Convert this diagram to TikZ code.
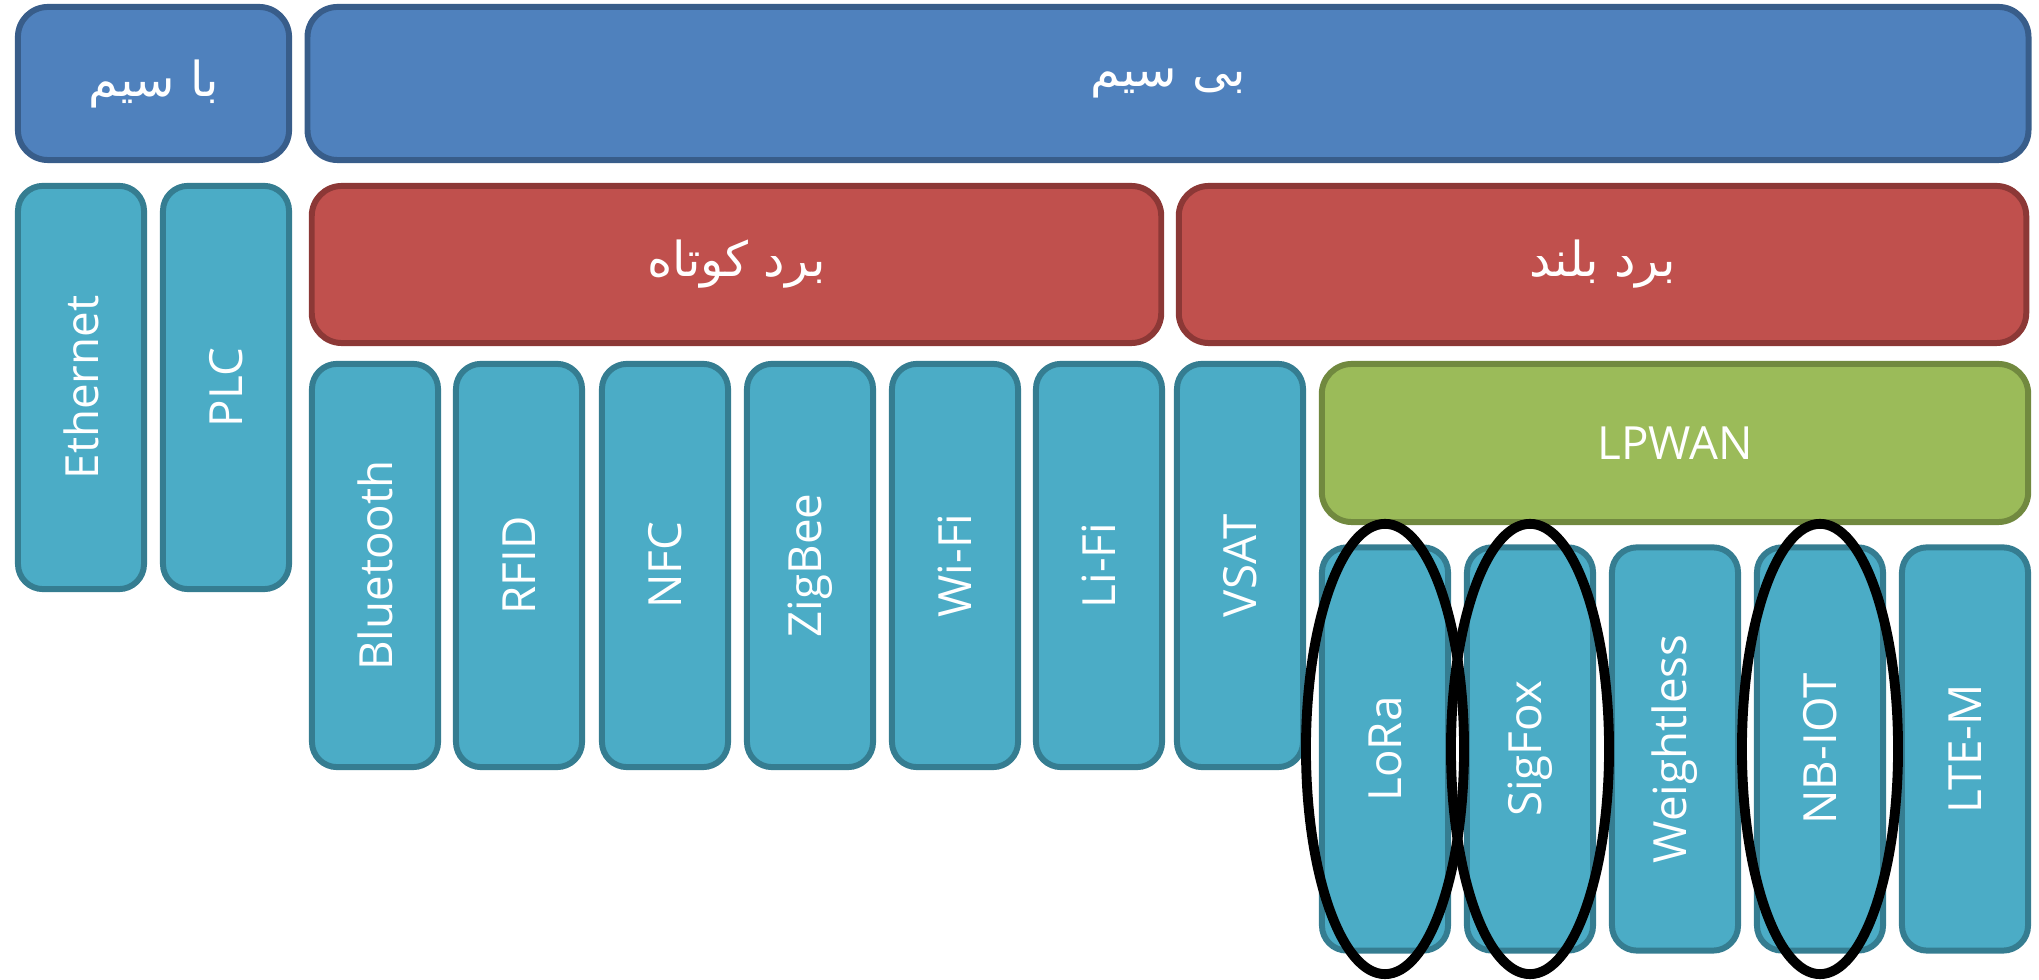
\documentclass[tikz,border=0pt]{standalone}
\usepackage{fontspec}
\usepackage{graphicx}
\setmainfont{Open Sans}
\newfontfamily\farsi[Script=Arabic]{DejaVu Sans}
\TeXXeTstate=1

\definecolor{bluefill}{HTML}{4F81BD}
\definecolor{blueline}{HTML}{385D8A}
\definecolor{redfill}{HTML}{C0504D}
\definecolor{redline}{HTML}{8C3836}
\definecolor{tealfill}{HTML}{4BACC6}
\definecolor{tealline}{HTML}{357D91}
\definecolor{greenfill}{HTML}{9BBB59}
\definecolor{greenline}{HTML}{71893F}

\newcommand{\vlabel}[1]{\rotatebox{90}{#1}}
\newcommand{\farsitext}[1]{{\fontsize{13.7}{16}\farsi\beginR #1\endR}}

\tikzset{
    tile/.style={rectangle, rounded corners=0.25cm, line width=1.7pt,
        text=white, inner sep=0pt, font=\fontsize{13}{16}\selectfont},
    band/.style={tile, rounded corners=0.3cm},
    wirebox/.style={band, fill=bluefill, draw=blueline, minimum height=1.53cm},
    rangebox/.style={band, fill=redfill, draw=redline, minimum height=1.57cm},
    lpwanbox/.style={band, fill=greenfill, draw=greenline, minimum height=1.58cm},
    tech/.style={tile, fill=tealfill, draw=tealline,
        minimum width=1.26cm, minimum height=4.03cm},
    pick/.style={line width=2.8pt, black},
}

\begin{document}
\begin{tikzpicture}[x=0.01cm, y=-0.01cm]
        \useasboundingbox (0,0) rectangle (2039,980);
        % wired / wireless
        \node [wirebox, minimum width=2.71cm]  (wired)    at (153.5,83.5) {\farsitext{با سیم}};
        \node [wirebox, minimum width=17.20cm] (wireless) at (1168,83.5)  {\farsitext{بی سیم}};
        % short and long range
        \node [rangebox, minimum width=8.49cm] (short) at (736.5,264.5)  {\farsitext{برد کوتاه}};
        \node [rangebox, minimum width=8.47cm] (long)  at (1602.5,264.5) {\farsitext{برد بلند}};
        % wired technologies
        \node [tech] (eth) at (81,387.5)  {\vlabel{Ethernet}};
        \node [tech] (plc) at (226,387.5) {\vlabel{PLC}};
        % short range technologies
        \node [tech] (bt)    at (375,565.5)  {\vlabel{Bluetooth}};
        \node [tech] (rfid)  at (519,565.5)  {\vlabel{RFID}};
        \node [tech] (nfc)   at (665,565.5)  {\vlabel{NFC}};
        \node [tech] (zb)    at (810,565.5)  {\vlabel{ZigBee}};
        \node [tech] (wifi)  at (955,565.5)  {\vlabel{Wi-Fi}};
        \node [tech] (lifi)  at (1099,565.5) {\vlabel{Li-Fi}};
        \node [tech] (vsat)  at (1240,565.5) {\vlabel{VSAT}};
        % long range, low power
        \node [lpwanbox, minimum width=7.06cm] (lpwan) at (1675,443) {LPWAN};
        \node [tech] (lora)   at (1385,749) {\vlabel{LoRa}};
        \node [tech] (sigfox) at (1530,749) {\vlabel{SigFox}};
        \node [tech] (wless)  at (1675,749) {\vlabel{Weightless}};
        \node [tech] (nbiot)  at (1820,749) {\vlabel{NB-IOT}};
        \node [tech] (ltem)   at (1965,749) {\vlabel{LTE-M}};
        % marked ones
        \draw [pick] (lora.center)   ellipse [x radius=0.79cm, y radius=2.25cm];
        \draw [pick] (sigfox.center) ellipse [x radius=0.79cm, y radius=2.25cm];
        \draw [pick] (nbiot.center)  ellipse [x radius=0.78cm, y radius=2.25cm];
    \end{tikzpicture}
\end{document}
